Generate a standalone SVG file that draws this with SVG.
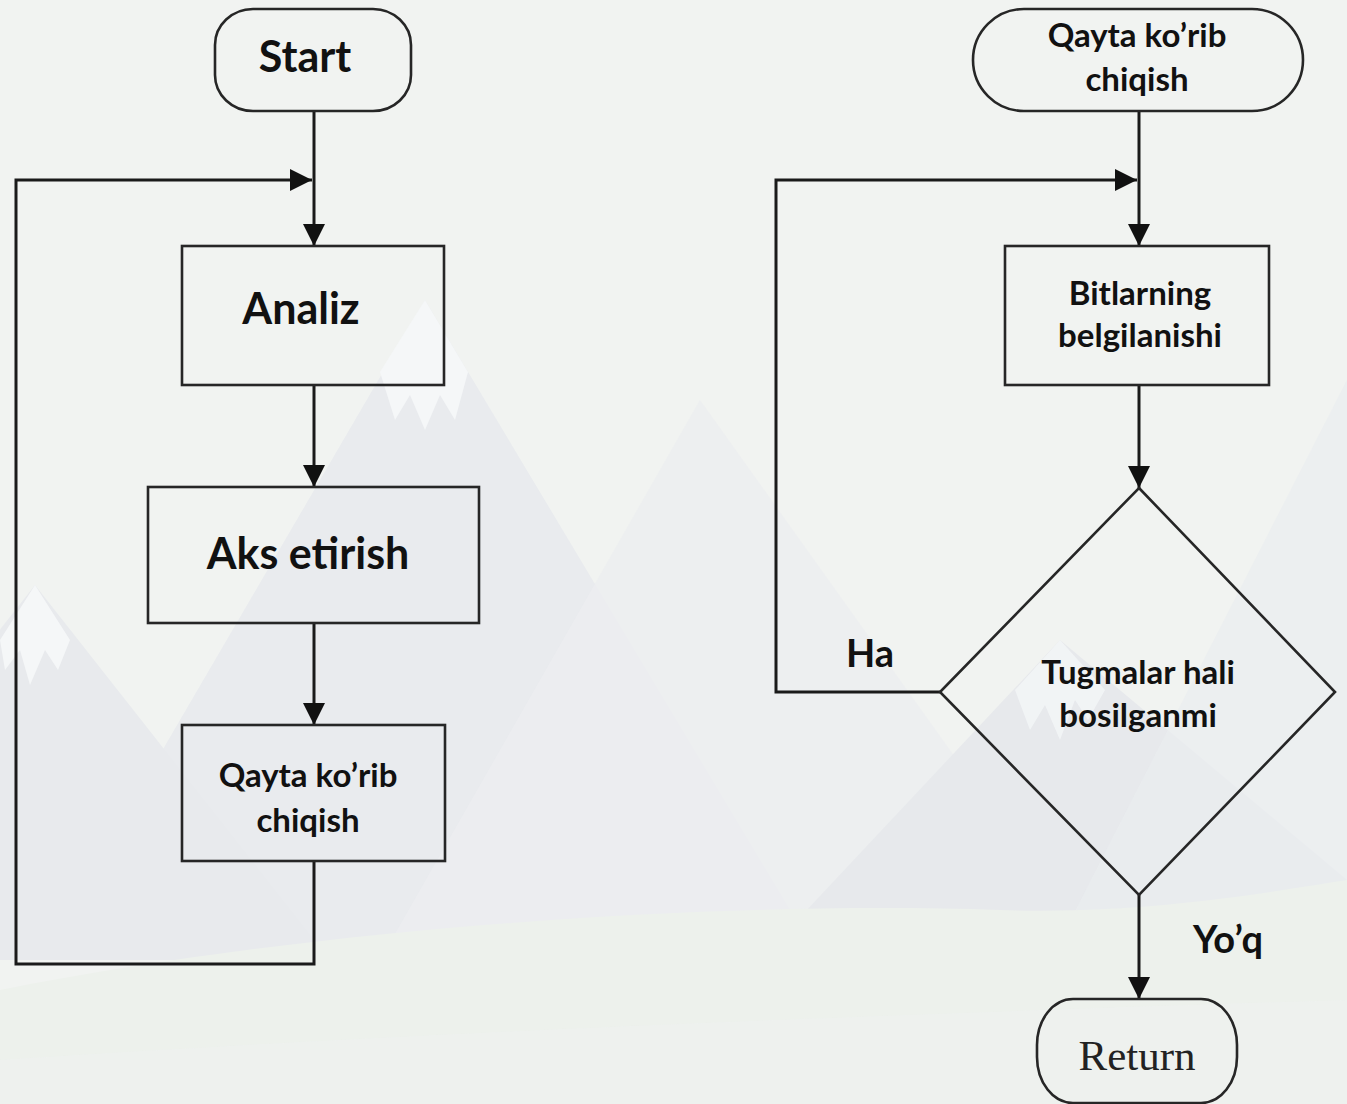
<svg xmlns="http://www.w3.org/2000/svg" width="1347" height="1104" viewBox="0 0 1347 1104">
<defs>
<style>
.shape{fill:none;stroke:#262626;stroke-width:2.6}
.conn{fill:none;stroke:#1a1a1a;stroke-width:3}
.lbl{font-family:Lato,"Open Sans","Liberation Sans",sans-serif;font-weight:bold;fill:#111;text-anchor:middle}
.big{font-size:43px}
.mid{font-size:38px}
.sm{font-size:33px}
.serif{font-family:"Liberation Serif","DejaVu Serif",serif;font-size:43px;fill:#222;text-anchor:middle}
</style>
<marker id="arr" markerUnits="userSpaceOnUse" markerWidth="22" markerHeight="22" viewBox="0 0 22 22" refX="22" refY="11" orient="auto">
<path d="M0,0 L22,11 L0,22 Z" fill="#111"/>
</marker>
</defs>
<g id="background">
<rect x="0" y="0" width="1347" height="1104" fill="#f1f3f1"/>
<polygon points="425,300 820,960 40,960" fill="#e9ebee"/>
<polygon points="35,585 330,960 -260,960" fill="#e8eaed"/>
<polygon points="700,400 1100,960 380,960" fill="#eceef0" opacity="0.8"/>
<polygon points="1060,640 1347,880 1347,960 760,960" fill="#e7e9ec"/>
<polygon points="1347,380 1347,960 1050,960" fill="#eaecef" opacity="0.7"/>
<polygon points="425,300 468,372 455,420 440,395 425,430 410,395 395,420 380,372" fill="#f5f7f8"/>
<polygon points="35,585 70,640 58,670 45,650 30,685 20,650 5,670 0,640" fill="#f5f7f8"/>
<polygon points="1060,640 1105,690 1088,720 1075,700 1060,740 1045,705 1030,730 1015,690" fill="#f4f6f7" opacity="0.8"/>
<path d="M0,990 C300,930 700,900 1000,910 C1150,915 1280,890 1347,880 L1347,1104 L0,1104 Z" fill="#edf1ec"/>
<path d="M0,1060 C300,1040 700,1020 1347,1000 L1347,1104 L0,1104 Z" fill="#eef1ef" opacity="0.7"/>
</g>
<g id="connectors">
<line class="conn" x1="314" y1="111" x2="314" y2="246" marker-end="url(#arr)"/>
<polyline class="conn" points="314,861 314,964 16,964 16,180 312,180" marker-end="url(#arr)"/>
<line class="conn" x1="314" y1="385" x2="314" y2="487" marker-end="url(#arr)"/>
<line class="conn" x1="314" y1="623" x2="314" y2="725" marker-end="url(#arr)"/>
<line class="conn" x1="1139" y1="111" x2="1139" y2="246" marker-end="url(#arr)"/>
<polyline class="conn" points="940,692 776,692 776,180 1137,180" marker-end="url(#arr)"/>
<line class="conn" x1="1139" y1="385" x2="1139" y2="488" marker-end="url(#arr)"/>
<line class="conn" x1="1139" y1="895" x2="1139" y2="999" marker-end="url(#arr)"/>
</g>
<g id="start">
<rect class="shape" x="215" y="9" width="196" height="102" rx="38" ry="36"/>
<text class="lbl big" x="305" y="72">Start</text>
</g>
<g id="analiz">
<rect class="shape" x="182" y="246" width="262" height="139"/>
<text class="lbl big" x="301" y="324">Analiz</text>
</g>
<g id="aks">
<rect class="shape" x="148" y="487" width="331" height="136"/>
<text class="lbl big" x="308" y="569">Aks etirish</text>
</g>
<g id="qayta-left">
<rect class="shape" x="182" y="725" width="263" height="136"/>
<text class="lbl sm" x="308" y="787">Qayta ko’rib</text>
<text class="lbl sm" x="308" y="832">chiqish</text>
</g>
<g id="qayta-right">
<rect class="shape" x="973" y="9" width="330" height="102" rx="51" ry="51"/>
<text class="lbl sm" x="1137" y="47">Qayta ko’rib</text>
<text class="lbl sm" x="1137" y="91">chiqish</text>
</g>
<g id="bitlarning">
<rect class="shape" x="1005" y="246" width="264" height="139"/>
<text class="lbl sm" x="1140" y="305">Bitlarning</text>
<text class="lbl sm" x="1140" y="347">belgilanishi</text>
</g>
<g id="decision">
<polygon class="shape" points="1139,488 1335,692 1139,895 940,692"/>
<text class="lbl sm" x="1138" y="684">Tugmalar hali</text>
<text class="lbl sm" x="1138" y="727">bosilganmi</text>
</g>
<g id="labels">
<text class="lbl mid" x="870" y="667">Ha</text>
<text class="lbl mid" x="1228" y="953">Yo’q</text>
</g>
<g id="return">
<rect class="shape" x="1037" y="999" width="200" height="104" rx="36" ry="46"/>
<text class="serif" x="1137" y="1070">Return</text>
</g>
</svg>
